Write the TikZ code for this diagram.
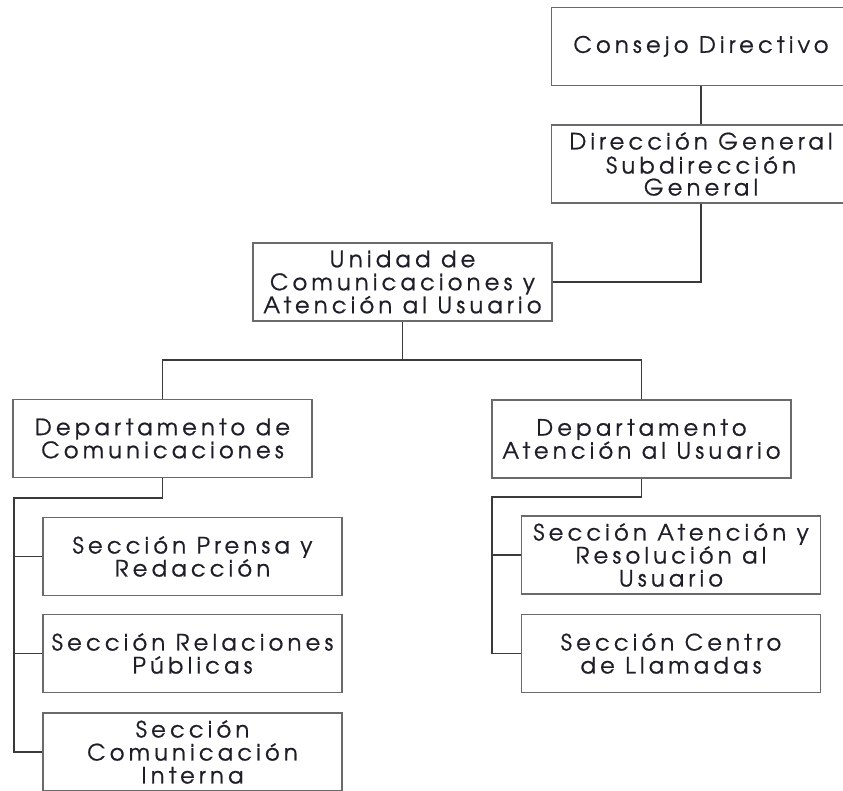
\documentclass[tikz,border=0pt]{standalone}
\usepackage{fontspec}
\setmainfont{texgyreadventor-regular.otf}[LetterSpace=19, FakeBold=0.8]
\usetikzlibrary{calc}
\definecolor{boxline}{HTML}{6A6A6A}
\definecolor{linkline}{HTML}{3A3A3A}
\definecolor{txt}{HTML}{1E1E28}
\tikzset{
  unit/.style={draw=boxline, line width=1.6pt, fill=white, minimum width=299pt,
    minimum height=78pt, align=center, text=txt, inner sep=2pt,
    font=\fontsize{22.5}{23}\selectfont},
  link/.style={draw=linkline, line width=1.8pt}
}
\begin{document}
\begin{tikzpicture}[x=1pt,y=-1pt]
\useasboundingbox (0,0) rectangle (843,790);
\begin{scope}
\clip (0,0) rectangle (843,790);
% top of the hierarchy
\node[unit] (cd) at (701,46.5) {Consejo Directivo};
\node[unit] (dg) at (701,164) {Dirección General\\[1pt]Subdirección\\[-1pt]General};
\node[unit] (uc) at (402.5,282) {Unidad de\\Comunicaciones y\\Atención al Usuario};
% departments
\node[unit] (dc) at (162.5,438.5) {Departamento de\\Comunicaciones};
\node[unit] (da) at (641.5,439) {Departamento\\Atención al Usuario};
% sections under communications
\node[unit] (sp) at (192.5,556.5) {Sección Prensa y\\Redacción};
\node[unit] (sr) at (192.5,653.5) {Sección Relaciones\\Públicas};
\node[unit] (si) at (192.5,752) {Sección\\Comunicación\\Interna};
% sections under user attention
\node[unit] (sa) at (671,555) {Sección Atención y\\Resolución al\\Usuario};
\node[unit] (sl) at (671,653.5) {Sección Centro\\de Llamadas};

% connectors
\coordinate (split) at (402.5,360);
\coordinate (dcbend) at (162.5,498);
\coordinate (dctrunk) at (14,498);
\coordinate (dabend) at (641.5,497);
\coordinate (datrunk) at (492,497);

\draw[link] (cd.south) -- (dg.north);
\draw[link] (dg.south) |- (uc.east);
\draw[link] (uc.south) -- (split);
\draw[link] (dc.north) |- (split) -| (da.north);

\draw[link] (dc.south) -- (dcbend) -- (dctrunk) |- (si.west);
\draw[link] (dctrunk |- sp.west) -- (sp.west);
\draw[link] (dctrunk |- sr.west) -- (sr.west);

\draw[link] (da.south) -- (dabend) -- (datrunk) |- (sl.west);
\draw[link] (datrunk |- sa.west) -- (sa.west);
\end{scope}
\end{tikzpicture}
\end{document}
